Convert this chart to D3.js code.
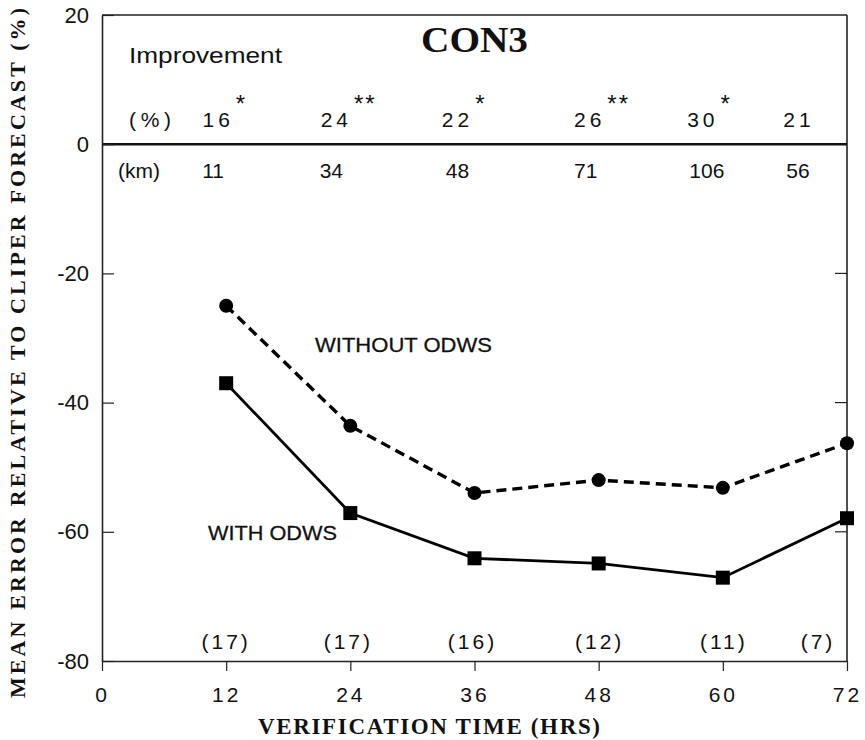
<!DOCTYPE html>
<html>
<head>
<meta charset="utf-8">
<script src="https://cdn.jsdelivr.net/npm/d3@7/dist/d3.min.js"></script>
<style>
  html, body { margin: 0; padding: 0; background: #fff; }
  svg { display: block; }
  .sans { font-family: "Liberation Sans", Arial, Helvetica, sans-serif; fill: #111; }
  .serif { font-family: "Liberation Serif", "Times New Roman", serif; font-weight: bold; fill: #111; }
</style>
</head>
<body>
<svg id="chart" width="865" height="740"></svg>
<script>
// ---- data ----
const hours = [12, 24, 36, 48, 60, 72];
const withoutODWS = [-25.0, -43.6, -54.0, -52.0, -53.2, -46.3];
const withODWS = [-37.0, -57.1, -64.1, -64.9, -67.1, -57.9];
const improvementPct = [16, 24, 22, 26, 30, 21];
const significance = ["*", "**", "*", "**", "*", ""];
const improvementKm = [11, 34, 48, 71, 106, 56];
const caseCounts = [17, 17, 16, 12, 11, 7];
const xTicks = [0, 12, 24, 36, 48, 60, 72];
const yTicks = [20, 0, -20, -40, -60, -80];
const innerYTicks = [-20, -40, -60];

// ---- layout (styling only) ----
const pctOffsets = [-8, -14, -17, -9, -20, -48];
const kmOffsets = [-13, -19, -17, -13, -16, -49];
const countOffsets = [0, -2, -2, 1, 1, -29];

const svg = d3.select("#chart");
const x = d3.scaleLinear().domain([0, 72]).range([102, 847]);
const y = d3.scaleLinear().domain([20, -80]).range([15, 661]);

// frame: top and right border
svg.append("line").attr("x1", x(0)).attr("x2", x(72)).attr("y1", y(20)).attr("y2", y(20))
  .attr("stroke", "#222").attr("stroke-width", 1.6);
svg.append("line").attr("x1", x(72)).attr("x2", x(72)).attr("y1", y(20)).attr("y2", y(-80))
  .attr("stroke", "#222").attr("stroke-width", 1.6);
svg.selectAll("line.rt").data(innerYTicks).enter().append("line")
  .attr("x1", x(72)).attr("x2", x(72) - 12).attr("y1", d => y(d)).attr("y2", d => y(d))
  .attr("stroke", "#222").attr("stroke-width", 1.2);

// zero line
svg.append("line").attr("x1", x(0)).attr("x2", x(72)).attr("y1", y(0)).attr("y2", y(0))
  .attr("stroke", "#111").attr("stroke-width", 2.4);

// left axis
const yAxis = d3.axisLeft(y).tickValues(yTicks).tickSizeInner(-12).tickSizeOuter(0).tickPadding(13)
  .tickFormat(d3.format("d"));
const gy = svg.append("g").attr("transform", `translate(${x(0)},0)`).call(yAxis);
gy.select(".domain").attr("stroke", "#222").attr("stroke-width", 1.6);
gy.selectAll(".tick line").attr("stroke", "#222").attr("stroke-width", 1.2);
gy.selectAll(".tick text").attr("class", "sans").attr("fill", "#111").style("font-size", "22px")
  .text(d => d < 0 ? "-" + Math.abs(d) : d);

// bottom axis
const xAxis = d3.axisBottom(x).tickValues(xTicks).tickSizeInner(10).tickSizeOuter(0).tickPadding(16);
const gx = svg.append("g").attr("transform", `translate(0,${y(-80)})`).call(xAxis);
gx.select(".domain").attr("stroke", "#222").attr("stroke-width", 1.6);
gx.selectAll(".tick line").attr("stroke", "#222").attr("stroke-width", 1.2);
gx.selectAll(".tick text").attr("class", "sans").attr("fill", "#111")
  .style("font-size", "21px").style("letter-spacing", "3px");

// lines
const lineGen = d3.line().x(d => x(d[0])).y(d => y(d[1]));
const withoutPts = hours.map((h, i) => [h, withoutODWS[i]]);
const withPts = hours.map((h, i) => [h, withODWS[i]]);

svg.append("path").datum(withoutPts).attr("d", lineGen).attr("fill", "none")
  .attr("stroke", "#000").attr("stroke-width", 3.4).attr("stroke-dasharray", "10,6");
svg.append("path").datum(withPts).attr("d", lineGen).attr("fill", "none")
  .attr("stroke", "#000").attr("stroke-width", 2.8);

svg.selectAll("circle.m").data(withoutPts).enter().append("circle")
  .attr("cx", d => x(d[0])).attr("cy", d => y(d[1])).attr("r", 7).attr("fill", "#000");
const sq = 14;
svg.selectAll("rect.m").data(withPts).enter().append("rect")
  .attr("x", d => x(d[0]) - sq / 2).attr("y", d => y(d[1]) - sq / 2)
  .attr("width", sq).attr("height", sq).attr("fill", "#000");

// series labels
svg.append("text").attr("class", "sans").attr("x", 315).attr("y", 352)
  .attr("textLength", 177).attr("lengthAdjust", "spacingAndGlyphs")
  .style("font-size", "21px").style("stroke", "#111").style("stroke-width", "0.3px").text("WITHOUT ODWS");
svg.append("text").attr("class", "sans").attr("x", 208).attr("y", 540)
  .attr("textLength", 129).attr("lengthAdjust", "spacingAndGlyphs")
  .style("font-size", "21px").style("stroke", "#111").style("stroke-width", "0.3px").text("WITH ODWS");

// title
svg.append("text").attr("class", "serif").attr("x", 421).attr("y", 52)
  .attr("textLength", 107).attr("lengthAdjust", "spacingAndGlyphs")
  .style("font-size", "36px").text("CON3");

// improvement block
svg.append("text").attr("class", "sans").attr("x", 129).attr("y", 63)
  .attr("textLength", 153).attr("lengthAdjust", "spacingAndGlyphs")
  .style("font-size", "22px").text("Improvement");
svg.append("text").attr("class", "sans").attr("x", 129).attr("y", 127)
  .attr("textLength", 42).attr("lengthAdjust", "spacing")
  .style("font-size", "21px").text("(%)");
svg.append("text").attr("class", "sans").attr("x", 118).attr("y", 178)
  .style("font-size", "21px").text("(km)");

const pctG = svg.append("g");
hours.forEach((h, i) => {
  const cx = x(h) + pctOffsets[i];
  const t = pctG.append("text").attr("class", "sans").attr("x", cx).attr("y", 127)
    .attr("text-anchor", "middle").style("font-size", "21px").style("letter-spacing", "4px")
    .text(improvementPct[i]);
  const w = t.node().getComputedTextLength();
  if (significance[i]) {
    pctG.append("text").attr("class", "sans").attr("x", cx + w / 2 + 2).attr("y", 112)
      .style("font-size", "24px").style("letter-spacing", "2px").text(significance[i]);
  }
});

svg.selectAll("text.km").data(improvementKm).enter().append("text")
  .attr("class", "sans").attr("x", (d, i) => x(hours[i]) + kmOffsets[i]).attr("y", 178)
  .attr("text-anchor", "middle").style("font-size", "21px").text(d => d);

svg.selectAll("text.cnt").data(caseCounts).enter().append("text")
  .attr("class", "sans").attr("x", (d, i) => x(hours[i]) + countOffsets[i]).attr("y", 649)
  .attr("text-anchor", "middle").style("font-size", "21px").style("letter-spacing", "3px")
  .text(d => "(" + d + ")");

// axis titles
svg.append("text").attr("class", "serif").attr("x", 258).attr("y", 734)
  .attr("textLength", 342).attr("lengthAdjust", "spacing")
  .style("font-size", "23px").text("VERIFICATION TIME (HRS)");
svg.append("text").attr("class", "serif")
  .attr("transform", "translate(25,698) rotate(-90)")
  .attr("textLength", 690).attr("lengthAdjust", "spacing")
  .style("font-size", "22px").text("MEAN ERROR RELATIVE TO CLIPER FORECAST (%)");
</script>
</body>
</html>
